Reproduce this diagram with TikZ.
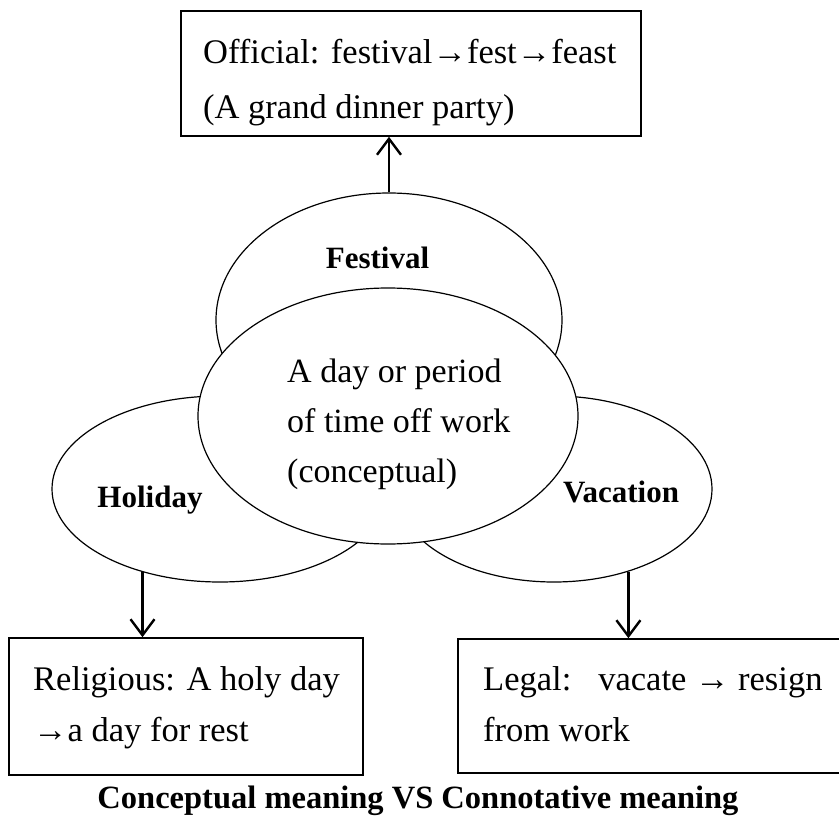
\documentclass[tikz,border=0pt]{standalone}
\usepackage{fontspec}
\setmainfont{Liberation Serif}
\usetikzlibrary{shapes.geometric,arrows.meta}
\begin{document}
\begin{tikzpicture}[x=1pt,y=-1pt,>={Straight Barb[width=24pt,length=16pt]},
    oval/.style={draw,ellipse,fill=white,inner sep=0pt,line width=1.2pt},
    box/.style={draw,rectangle,inner sep=0pt,line width=1.6pt},
    txt/.style={align=left,inner sep=0pt,anchor=north west},
    word/.style={font=\bfseries\fontsize{31}{31}\selectfont,inner sep=0pt,anchor=base}]
\useasboundingbox (0,0) rectangle (839,816);
% ellipses, the middle one last so it lies on top
\node[oval,minimum width=346pt,minimum height=254pt](festival) at (389,320){};
\node[oval,minimum width=336pt,minimum height=186pt](holiday) at (220,489){};
\node[oval,minimum width=316pt,minimum height=186pt](vacation) at (554,489){};
\node[oval,minimum width=380pt,minimum height=256pt](core) at (388,416){};
\node[word](festivalname) at (377.5,268){Festival};
\node[word](holidayname) at (150,507){Holiday};
\node[word](vacationname) at (621,502){Vacation};
\node[txt,font=\fontsize{34}{50}\selectfont](coretxt) at (287,358.8)
    {A day or period\\of time off work\\(conceptual)};
% boxes
\node[box,minimum width=460pt,minimum height=125pt](official) at (411,73.5){};
\node[txt,font=\fontsize{34.5}{55}\selectfont](officialtxt) at (203,39.5)
    {Official: festival→fest→feast\\(A grand dinner party)};
\node[box,minimum width=354pt,minimum height=137pt](religious) at (186,706.5){};
\node[txt,font=\fontsize{34.5}{51}\selectfont](religioustxt) at (33,666.5)
    {Religious: A holy day\\→a day for rest};
\node[box,minimum width=400pt,minimum height=134pt](legal) at (658,706){};
\node[txt,font=\fontsize{34.5}{51}\selectfont](legaltxt) at (483,666.5)
    {Legal:\hspace{27pt}vacate → resign\\from work};
% arrows
\draw[->,line width=2.4pt](festival.north)--(festival.north |- official.south);
\draw[->,line width=2.4pt](holiday.227)--(holiday.227 |- religious.north);
\draw[->,line width=2.4pt](vacation.312)--(vacation.312 |- legal.north);
\node[word,font=\bfseries\fontsize{32.5}{32.5}\selectfont](caption) at (418,808)
    {Conceptual meaning VS Connotative meaning};
\end{tikzpicture}
\end{document}
